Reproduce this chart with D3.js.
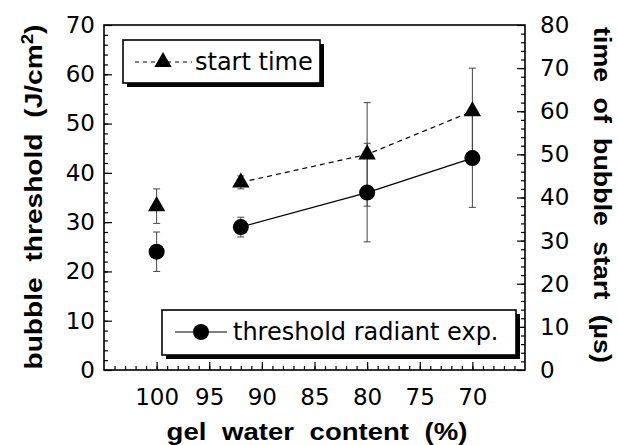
<!DOCTYPE html>
<html>
<head>
<meta charset="utf-8">
<script src="https://cdn.jsdelivr.net/npm/d3@7"></script>
<style>
  html, body { margin: 0; padding: 0; background: #fff; }
  svg { display: block; }
  text { font-family: "DejaVu Sans", sans-serif; fill: #000; }
  .title { font-family: "Liberation Sans", Arial, sans-serif; font-weight: bold; font-size: 24px; }
</style>
</head>
<body>
<svg id="chart" width="618" height="445"></svg>
<script>
// gel water content (%) of each sample
const waterContent = [100, 92, 80, 70];
// bubble threshold radiant exposure (J/cm^2) and its error
const threshold = [24, 29, 36, 43];
const thresholdErr = [4, 2, 10, 10];
// time of bubble start (µs) and its error
const startTime = [38, 43.5, 50, 60];
const startTimeErr = [4, 1.5, 12, 10];
// tick labels
const xTicks = [100, 95, 90, 85, 80, 75, 70];
const yLeftTicks = [0, 10, 20, 30, 40, 50, 60, 70];
const yRightTicks = [0, 10, 20, 30, 40, 50, 60, 70, 80];

const svg = d3.select("#chart");
const m = { left: 104, right: 525, top: 25, bottom: 370 };

const x = d3.scaleLinear().domain([105, 65]).range([m.left, m.right]);
const yL = d3.scaleLinear().domain([0, 70]).range([m.bottom, m.top]);
const yR = d3.scaleLinear().domain([0, 80]).range([m.bottom, m.top]);

const tickFont = "23px";

// axes: minor ticks first, then major ticks with labels
function styleAxis(g) {
  g.select(".domain").remove();
  g.selectAll("line").attr("stroke", "#000").attr("stroke-width", 1.2);
  g.selectAll("text").style("font-size", tickFont).attr("fill", "#000");
}

svg.append("g").attr("transform", `translate(0,${m.bottom})`)
  .call(d3.axisBottom(x).tickValues(d3.range(66, 105, 1)).tickSize(-4).tickFormat(""))
  .call(styleAxis);
svg.append("g").attr("transform", `translate(0,${m.bottom})`)
  .call(d3.axisBottom(x).tickValues(xTicks).tickSize(-8).tickPadding(19).tickFormat(d3.format("d")))
  .call(styleAxis);

svg.append("g").attr("transform", `translate(${m.left},0)`)
  .call(d3.axisLeft(yL).tickValues(d3.range(2, 70, 2)).tickSize(-4).tickFormat(""))
  .call(styleAxis);
svg.append("g").attr("transform", `translate(${m.left},0)`)
  .call(d3.axisLeft(yL).tickValues(yLeftTicks).tickSize(-8).tickPadding(9).tickFormat(d3.format("d")))
  .call(styleAxis);

svg.append("g").attr("transform", `translate(${m.right},0)`)
  .call(d3.axisRight(yR).tickValues(d3.range(2, 80, 2)).tickSize(-4).tickFormat(""))
  .call(styleAxis);
svg.append("g").attr("transform", `translate(${m.right},0)`)
  .call(d3.axisRight(yR).tickValues(yRightTicks).tickSize(-8).tickPadding(15).tickFormat(d3.format("d")))
  .call(styleAxis);

// plot frame
svg.append("rect")
  .attr("x", m.left).attr("y", m.top)
  .attr("width", m.right - m.left).attr("height", m.bottom - m.top)
  .attr("fill", "none").attr("stroke", "#000").attr("stroke-width", 1.6);

// axis titles, stretched horizontally to a given run length
function title(cx, cy, angle, span) {
  const g = svg.append("g");
  const t = g.append("text").attr("class", "title").attr("text-anchor", "middle")
    .style("word-spacing", "7px");
  return {
    t,
    fit() {
      const w = t.node().getBBox().width;
      g.attr("transform", `translate(${cx},${cy}) rotate(${angle}) scale(${span / w},1)`);
    }
  };
}

const xt = title(317, 440, 0, 301);
xt.t.text("gel water content (%)");
xt.fit();

const lt = title(42, 197, -90, 345);
lt.t.append("tspan").text("bubble threshold (J/cm");
lt.t.append("tspan").attr("dy", -9).style("font-size", "16px").text("2");
lt.t.append("tspan").attr("dy", 9).text(")");
lt.fit();

const rt = title(594, 195, 90, 336);
rt.t.text("time of bubble start (µs)");
rt.fit();

const pts = waterContent.map((w, i) => ({
  w, th: threshold[i], thE: thresholdErr[i], st: startTime[i], stE: startTimeErr[i]
}));

// error bars
const capW = 3.5;
function errBars(accY, accE, scale) {
  const g = svg.append("g").attr("stroke", "#444").attr("stroke-width", 1);
  pts.forEach(p => {
    const cx = x(p.w), y1 = scale(accY(p) - accE(p)), y2 = scale(accY(p) + accE(p));
    g.append("line").attr("x1", cx).attr("x2", cx).attr("y1", y1).attr("y2", y2);
    g.append("line").attr("x1", cx - capW).attr("x2", cx + capW).attr("y1", y1).attr("y2", y1);
    g.append("line").attr("x1", cx - capW).attr("x2", cx + capW).attr("y1", y2).attr("y2", y2);
  });
}
errBars(p => p.st, p => p.stE, yR);
errBars(p => p.th, p => p.thE, yL);

// connecting lines (the pure water sample stands alone)
const linked = pts.slice(1);
svg.append("path")
  .attr("d", d3.line().x(p => x(p.w)).y(p => yR(p.st))(linked))
  .attr("fill", "none").attr("stroke", "#000").attr("stroke-width", 1.2)
  .attr("stroke-dasharray", "5,4");
svg.append("path")
  .attr("d", d3.line().x(p => x(p.w)).y(p => yL(p.th))(linked))
  .attr("fill", "none").attr("stroke", "#000").attr("stroke-width", 1.2);

// markers
const tri = d3.symbol().type(d3.symbolTriangle).size(130);
svg.append("g").selectAll("path").data(pts).join("path")
  .attr("d", tri).attr("transform", p => `translate(${x(p.w)},${yR(p.st)})`).attr("fill", "#000");
svg.append("g").selectAll("circle").data(pts).join("circle")
  .attr("cx", p => x(p.w)).attr("cy", p => yL(p.th)).attr("r", 8).attr("fill", "#000");

// legends with drop shadow
function legendBox(x0, y0, w, h) {
  svg.append("rect").attr("x", x0 + 4).attr("y", y0 + 4).attr("width", w).attr("height", h).attr("fill", "#000");
  svg.append("rect").attr("x", x0).attr("y", y0).attr("width", w).attr("height", h)
    .attr("fill", "#fff").attr("stroke", "#000").attr("stroke-width", 1.6);
}

legendBox(123, 40, 197, 43);
svg.append("line").attr("x1", 135).attr("x2", 192).attr("y1", 62).attr("y2", 62)
  .attr("stroke", "#000").attr("stroke-width", 1).attr("stroke-dasharray", "4,4");
svg.append("path").attr("d", tri).attr("transform", "translate(163,62)").attr("fill", "#000");
svg.append("text").attr("x", 195).attr("y", 70).style("font-size", "24px").text("start time");

legendBox(162, 310, 354, 45);
svg.append("line").attr("x1", 175).attr("x2", 227).attr("y1", 332).attr("y2", 332)
  .attr("stroke", "#000").attr("stroke-width", 1.2);
svg.append("circle").attr("cx", 201).attr("cy", 332).attr("r", 8).attr("fill", "#000");
svg.append("text").attr("x", 233).attr("y", 340).style("font-size", "24px").text("threshold radiant exp.");
</script>
</body>
</html>
